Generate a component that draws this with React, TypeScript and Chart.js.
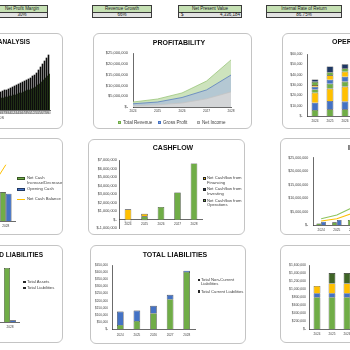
import React, { useEffect, useRef } from 'react';
import { Chart, registerables } from 'chart.js';

Chart.register(...registerables);

// ---------------- data ----------------
const KPI_LABELS = ['Net Profit Margin', 'Revenue Growth', 'Net Present Value', 'Internal Rate of Return'];
const KPI_VALUES = ['30%', '66%', '4,336,184', '86.75%'];
const KPI_CURRENCY = ['', '', '$', ''];

const YEARS = ['2024', '2025', '2026', '2027', '2028'];

// Break-even (months 25..60)
const BE_MONTHS = ['25', '26', '27', '28', '29', '30', '31', '32', '33', '34', '35', '36', '37', '38', '39', '40', '41', '42', '43', '44', '45', '46', '47', '48', '49', '50', '51', '52', '53', '54', '55', '56', '57', '58', '59', '60'];
const BE_REVENUE = [10, 11, 11, 12, 13, 13, 14, 15, 15, 16, 17, 18, 19, 20, 20, 21, 22, 23, 24, 25, 26, 27, 28, 29, 30, 31, 32, 34, 35, 37, 40, 43, 46, 49, 52, 55];
const BE_COSTS = [7, 7, 8, 8, 8, 9, 9, 10, 10, 10, 11, 12, 12, 13, 13, 14, 14, 15, 15, 16, 17, 17, 18, 19, 20, 20, 21, 22, 23, 25, 26, 28, 30, 32, 34, 36];

// Profitability
const TOTAL_REVENUE = [2300000, 3700000, 6500000, 12000000, 21800000];
const GROSS_PROFIT = [1500000, 2300000, 4400000, 7900000, 14800000];
const NET_INCOME = [550000, 1000000, 1850000, 3800000, 7000000];
const EBITDA = [1200000, 1850000, 3000000, 5600000, 10000000];

// Operating expenses
const OPEX_NAMES = ['Salaries', 'Rent', 'Marketing', 'Utilities', 'Insurance', 'Software', 'Travel', 'Other'];
const OPEX_SALARIES = [5800, 6500, 6500, 7000, 7500];
const OPEX_RENT = [7000, 8000, 7500, 8000, 8500];
const OPEX_MARKETING = [9700, 12000, 14500, 15500, 17000];
const OPEX_UTILITIES = [3200, 4800, 4800, 5000, 5200];
const OPEX_INSURANCE = [2600, 3900, 4800, 5000, 5200];
const OPEX_SOFTWARE = [1600, 4200, 4800, 5000, 5200];
const OPEX_TRAVEL = [3200, 3000, 3200, 3500, 3800];
const OPEX_OTHER = [2300, 5500, 4000, 4200, 4400];

// Cashflow
const CF_OPERATIONS = [0, 400000, 1500000, 3200000, 6600000];
const CF_INVESTING = [-300000, -50000, -20000, -30000, -30000];
const CF_FINANCING = [1220000, 300000, 0, 0, 0];
const NET_CASH_CHANGE = [920000, 650000, 1480000, 3170000, 6570000];
const OPENING_CASH = [0, 920000, 1570000, 3050000, 6220000];
const CLOSING_CASH = [920000, 1570000, 3050000, 6220000, 12790000];

// Balance sheet
const TOTAL_ASSETS = [1500000, 2600000, 4300000, 7600000, 13500000];
const CURRENT_LIABILITIES = [30000, 58000, 113000, 211000, 401000];
const NON_CURRENT_LIABILITIES = [94000, 73000, 51000, 30000, 9000];
const TOTAL_LIABILITIES = [124000, 131000, 164000, 241000, 410000];

// Staff costs
const STAFF_NAMES = ['Base Salaries', 'Benefits', 'Bonuses', 'New Hires'];
const STAFF_BASE = [800000, 800000, 800000, 800000, 800000];
const STAFF_BENEFITS = [100000, 100000, 100000, 100000, 100000];
const STAFF_BONUSES = [180000, 240000, 240000, 240000, 240000];
const STAFF_NEW_HIRES = [0, 260000, 260000, 260000, 260000];

// ---------------- style ----------------
const FONT = '"Liberation Sans", Arial, sans-serif';
const AXIS = '#3a3a3a';
const TICK = '#404040';
const GREEN = '#70ad47';
const BLUE = '#4472c4';
const YELLOW = '#ffc000';
const DKGREEN = '#3f6427';
const NAVY = '#1f3864';
const OUTLINE = '#262626';

type Box = { x: number; y: number; w: number; h: number };
type Plot = { L: number; T: number; R: number; B: number };

const money = (v: any) => (Number(v) === 0 ? '$-' : '$' + Number(v).toLocaleString('en-US'));

function yAxis(o: { min: number; max: number; step: number; size: number; pad: number; w: number; stacked?: boolean; cb?: any }) {
  return {
    type: 'linear',
    min: o.min,
    max: o.max,
    stacked: !!o.stacked,
    ticks: { stepSize: o.step, callback: o.cb || money, font: { size: o.size, family: FONT }, color: TICK, padding: o.pad },
    grid: { display: false, drawTicks: false },
    border: { display: true, color: AXIS, width: 0.75 },
    afterFit: (s: any) => { s.width = o.w; },
  };
}

function xAxis(o: { size: number; pad: number; h: number; stacked?: boolean; offset?: boolean; position?: any }) {
  const a: any = {
    type: 'category',
    stacked: !!o.stacked,
    offset: o.offset !== false,
    ticks: { font: { size: o.size, family: FONT }, color: TICK, padding: o.pad, maxRotation: 0, minRotation: 0, autoSkip: false },
    grid: { display: false, drawTicks: false },
    border: { display: true, color: AXIS, width: 0.75 },
    afterFit: (s: any) => { s.height = o.h; },
  };
  if (o.position) a.position = o.position;
  return a;
}

function opts(b: Box, p: Plot, yW: number, xH: number, scales: any) {
  return {
    responsive: false,
    maintainAspectRatio: false,
    animation: false,
    devicePixelRatio: 1,
    events: [],
    layout: {
      autoPadding: false,
      padding: { left: p.L - b.x - yW, top: p.T - b.y, right: b.x + b.w - p.R, bottom: b.y + b.h - p.B - xH },
    },
    plugins: { legend: { display: false }, title: { display: false }, tooltip: { enabled: false } },
    scales,
  };
}

const barDs = (label: string, data: number[], color: any, extra: any = {}) => ({
  type: 'bar',
  label,
  data,
  backgroundColor: color,
  borderColor: OUTLINE,
  borderWidth: 0.6,
  ...extra,
});

// ---------------- panels ----------------
const BOX_A: Box = { x: -150, y: 33, w: 213, h: 96 };
const PLOT_A: Plot = { L: -22, T: 50, R: 50, B: 110 };
const BOX_B: Box = { x: 93, y: 33, w: 159, h: 96 };
const PLOT_B: Plot = { L: 133, T: 53, R: 231, B: 107 };
const BOX_C: Box = { x: 282, y: 33, w: 140, h: 96 };
const PLOT_C: Plot = { L: 307.5, T: 54, R: 382.5, B: 116 };
const BOX_D: Box = { x: -150, y: 138, w: 213, h: 97 };
const PLOT_D: Plot = { L: -76.5, T: 159.4, R: 15, B: 221 };
const BOX_E: Box = { x: 88, y: 139, w: 157, h: 96 };
const PLOT_E: Plot = { L: 119.75, T: 160, R: 202.25, B: 228.3 };
const BOX_F: Box = { x: 280, y: 138, w: 140, h: 97 };
const PLOT_F: Plot = { L: 313.3, T: 157.7, R: 391.8, B: 225 };
const BOX_G: Box = { x: -150, y: 245, w: 213, h: 98 };
const PLOT_G: Plot = { L: -73.7, T: 266, R: 19.3, B: 322 };
const BOX_H: Box = { x: 90, y: 245, w: 156, h: 99 };
const PLOT_H: Plot = { L: 112, T: 265, R: 195, B: 329.3 };
const BOX_I: Box = { x: 280, y: 245, w: 140, h: 98 };
const PLOT_I: Plot = { L: 309.5, T: 265, R: 384.5, B: 329.3 };

const makeA = () => ({
  type: 'bar',
  data: {
    labels: BE_MONTHS,
    datasets: [
      { label: 'Cumulative Revenue', data: BE_REVENUE, backgroundColor: '#0d0d0d', categoryPercentage: 1, barPercentage: 1 },
      { label: 'Cumulative Costs', data: BE_COSTS, backgroundColor: '#3b5a22', categoryPercentage: 1, barPercentage: 1 },
    ],
  },
  options: opts(BOX_A, PLOT_A, 30, 8, {
    x: xAxis({ size: 2.8, pad: 1.6, h: 8 }),
    y: yAxis({ min: 0, max: 60, step: 10, size: 3.5, pad: 4, w: 30, cb: (v: any) => v }),
  }),
});

const makeB = () => ({
  type: 'line',
  data: {
    labels: YEARS,
    datasets: [
      { label: 'Total Revenue', data: TOTAL_REVENUE, borderColor: '#9cc67c', backgroundColor: '#cde3bd', fill: 'origin', borderWidth: 0.8, pointRadius: 0, order: 3 },
      { label: 'Gross Profit', data: GROSS_PROFIT, borderColor: '#5b7fbf', backgroundColor: '#b4c8d3', fill: 'origin', borderWidth: 0.8, pointRadius: 0, order: 2 },
      { label: 'Net Income', data: NET_INCOME, borderColor: '#c4c4c4', backgroundColor: '#d3d5d7', fill: 'origin', borderWidth: 0.8, pointRadius: 0, order: 1 },
    ],
  },
  options: opts(BOX_B, PLOT_B, 38, 8, {
    x: xAxis({ size: 3.2, pad: 2, h: 8, offset: false }),
    y: yAxis({ min: 0, max: 25000000, step: 5000000, size: 4, pad: 5, w: 38 }),
  }),
});

const OPEX_SERIES = [OPEX_SALARIES, OPEX_RENT, OPEX_MARKETING, OPEX_UTILITIES, OPEX_INSURANCE, OPEX_SOFTWARE, OPEX_TRAVEL, OPEX_OTHER];
const OPEX_COLORS = [GREEN, BLUE, YELLOW, GREEN, BLUE, YELLOW, GREEN, NAVY];

const makeC = () => ({
  type: 'bar',
  data: {
    labels: YEARS,
    datasets: OPEX_SERIES.map((d, i) => barDs(OPEX_NAMES[i], d, OPEX_COLORS[i], { categoryPercentage: 1, barPercentage: 0.45 })),
  },
  options: opts(BOX_C, PLOT_C, 24, 8, {
    x: xAxis({ size: 3.2, pad: 3, h: 8, stacked: true }),
    y: yAxis({ min: 0, max: 60000, step: 10000, size: 3.4, pad: 5, w: 24, stacked: true }),
  }),
});

const makeD = () => ({
  type: 'bar',
  data: {
    labels: YEARS,
    datasets: [
      { type: 'line', label: 'Net Cash Balance', data: CLOSING_CASH, borderColor: YELLOW, borderWidth: 1, pointRadius: 0, fill: false },
      barDs('Net Cash Increase/Decrease', NET_CASH_CHANGE, GREEN, { categoryPercentage: 0.62, barPercentage: 1 }),
      barDs('Opening Cash', OPENING_CASH, BLUE, { categoryPercentage: 0.62, barPercentage: 1 }),
    ],
  },
  options: opts(BOX_D, PLOT_D, 30, 8, {
    x: xAxis({ size: 3.2, pad: 2.9, h: 8 }),
    y: yAxis({ min: 0, max: 14000000, step: 2000000, size: 3.5, pad: 4, w: 30 }),
  }),
});

const makeE = () => ({
  type: 'bar',
  data: {
    labels: YEARS,
    datasets: [
      barDs('Net Cashflow from Operations', CF_OPERATIONS, GREEN, { categoryPercentage: 1, barPercentage: 0.4 }),
      barDs('Net Cashflow from Investing', CF_INVESTING, (ctx: any) => (ctx.raw < 0 ? '#ffffff' : NAVY), { categoryPercentage: 1, barPercentage: 0.4 }),
      barDs('Net Cashflow from Financing', CF_FINANCING, YELLOW, { categoryPercentage: 1, barPercentage: 0.4 }),
    ],
  },
  options: opts(BOX_E, PLOT_E, 30, 0, {
    x: xAxis({ size: 3.2, pad: 2.6, h: 0, stacked: true, position: { y: 0 } }),
    y: yAxis({ min: -1000000, max: 7000000, step: 1000000, size: 3.8, pad: 3, w: 30, stacked: true }),
  }),
});

const makeF = () => ({
  type: 'bar',
  data: {
    labels: YEARS,
    datasets: [
      { type: 'line', label: 'Total Revenue', data: TOTAL_REVENUE, borderColor: '#8fc45f', borderWidth: 1.1, pointRadius: 0, fill: false },
      { type: 'line', label: 'Gross Profit', data: GROSS_PROFIT, borderColor: YELLOW, borderWidth: 1.1, pointRadius: 0, fill: false },
      barDs('Net Income', NET_INCOME, GREEN, { categoryPercentage: 0.6, barPercentage: 1 }),
      barDs('EBITDA', EBITDA, BLUE, { categoryPercentage: 0.6, barPercentage: 1 }),
    ],
  },
  options: opts(BOX_F, PLOT_F, 31, 8, {
    x: xAxis({ size: 3.2, pad: 3, h: 8 }),
    y: yAxis({ min: 0, max: 25000000, step: 5000000, size: 3.6, pad: 5, w: 31 }),
  }),
});

const makeG = () => ({
  type: 'bar',
  data: {
    labels: YEARS,
    datasets: [
      barDs('Total Assets', TOTAL_ASSETS, GREEN, { categoryPercentage: 0.645, barPercentage: 1 }),
      barDs('Total Liabilities', TOTAL_LIABILITIES, BLUE, { categoryPercentage: 0.645, barPercentage: 1 }),
    ],
  },
  options: opts(BOX_G, PLOT_G, 30, 8, {
    x: xAxis({ size: 3.2, pad: 2.9, h: 8 }),
    y: yAxis({ min: 0, max: 14000000, step: 2000000, size: 3.5, pad: 4, w: 30 }),
  }),
});

const makeH = () => ({
  type: 'bar',
  data: {
    labels: YEARS,
    datasets: [
      barDs('Total Current Liabilities', CURRENT_LIABILITIES, GREEN, { categoryPercentage: 1, barPercentage: 0.4 }),
      barDs('Total Non-Current Liabilities', NON_CURRENT_LIABILITIES, BLUE, { categoryPercentage: 1, barPercentage: 0.4 }),
    ],
  },
  options: opts(BOX_H, PLOT_H, 20, 8, {
    x: xAxis({ size: 3.1, pad: 3.6, h: 8, stacked: true }),
    y: yAxis({ min: 0, max: 450000, step: 50000, size: 3.1, pad: 4, w: 20, stacked: true }),
  }),
});

const STAFF_SERIES = [STAFF_BASE, STAFF_BENEFITS, STAFF_BONUSES, STAFF_NEW_HIRES];
const STAFF_COLORS = [GREEN, BLUE, YELLOW, DKGREEN];

const makeI = () => ({
  type: 'bar',
  data: {
    labels: YEARS,
    datasets: STAFF_SERIES.map((d, i) => barDs(STAFF_NAMES[i], d, STAFF_COLORS[i], { categoryPercentage: 1, barPercentage: 0.45 })),
  },
  options: opts(BOX_I, PLOT_I, 28, 8, {
    x: xAxis({ size: 3.1, pad: 2.6, h: 8, stacked: true }),
    y: yAxis({ min: 0, max: 1600000, step: 200000, size: 3.4, pad: 3.5, w: 28, stacked: true }),
  }),
});

// ---------------- components ----------------
const K = 4;
function Txt({ x, y, s, a = 'l', b = false, c = '#404040', children }: any) {
  const tx = a === 'l' ? '0%' : a === 'c' ? '-50%' : '-100%';
  return (
    <div
      style={{
        position: 'absolute', left: x, top: y, transformOrigin: '0 0',
        transform: `scale(${1 / K}) translate(${tx}, -50%)`, fontSize: s * K, lineHeight: 1.15,
        fontFamily: FONT, fontWeight: b ? 700 : 400, color: c, whiteSpace: 'nowrap',
      }}
    >
      {children}
    </div>
  );
}

function Swatch({ x, y, w, h, fill, stroke = OUTLINE }: any) {
  return (
    <div style={{ position: 'absolute', left: x, top: y - h / 2, width: w, height: h, background: fill, border: `0.5px solid ${stroke}`, boxSizing: 'border-box' }} />
  );
}

function Frame({ b }: { b: Box }) {
  return (
    <div style={{ position: 'absolute', left: b.x, top: b.y, width: b.w, height: b.h, boxSizing: 'border-box', border: '1px solid #c4c4c4', borderRadius: 6, background: '#fff' }} />
  );
}

function ChartCanvas({ b, make }: { b: Box; make: () => any }) {
  const ref = useRef<HTMLCanvasElement>(null);
  useEffect(() => {
    const chart = new Chart(ref.current as HTMLCanvasElement, make());
    return () => chart.destroy();
  }, []);
  return <canvas ref={ref} width={b.w} height={b.h} style={{ position: 'absolute', left: b.x, top: b.y, width: b.w, height: b.h }} />;
}

const KPI_BOXES = [{ x: -5, w: 53 }, { x: 92, w: 60 }, { x: 178, w: 64 }, { x: 266, w: 76 }];

function Kpi({ i }: { i: number }) {
  const k = KPI_BOXES[i];
  return (
    <>
      <div style={{ position: 'absolute', left: k.x, top: 5, width: k.w, height: 13, boxSizing: 'border-box', border: '1px solid #3a3a3a', background: '#e3e3e3' }} />
      <div style={{ position: 'absolute', left: k.x + 1, top: 6, width: k.w - 2, height: 6, background: '#c5e0b3', borderBottom: '0.5px solid #3a3a3a' }} />
      <Txt x={k.x + k.w / 2} y={8.8} s={4.5} a="c" c="#1a1a1a">{KPI_LABELS[i]}</Txt>
      {KPI_CURRENCY[i] ? (
        <>
          <Txt x={k.x + 3} y={15} s={4.5} c="#1a1a1a">{KPI_CURRENCY[i]}</Txt>
          <Txt x={k.x + k.w - 2} y={15} s={4.5} a="r" c="#1a1a1a">{KPI_VALUES[i]}</Txt>
        </>
      ) : (
        <Txt x={k.x + k.w / 2} y={15} s={4.5} a="c" c="#1a1a1a">{KPI_VALUES[i]}</Txt>
      )}
    </>
  );
}

export default function App() {
  const boxes = [BOX_A, BOX_B, BOX_C, BOX_D, BOX_E, BOX_F, BOX_G, BOX_H, BOX_I];
  const makers = [makeA, makeB, makeC, makeD, makeE, makeF, makeG, makeH, makeI];
  const LG = 4.2;
  return (
    <div style={{ position: 'fixed', left: 0, top: 0, width: 350, height: 350, overflow: 'hidden', background: '#fff' }}>
      {[0, 1, 2, 3].map((i) => <Kpi key={i} i={i} />)}
      {boxes.map((b, i) => <Frame key={'f' + i} b={b} />)}
      {boxes.map((b, i) => <ChartCanvas key={'c' + i} b={b} make={makers[i]} />)}

      {/* titles */}
      <Txt x={30} y={42} s={6.5} a="r" b c="#111">BREAK-EVEN ANALYSIS</Txt>
      <Txt x={3.5} y={118} s={3.8} a="r" c={TICK}>PERIODS</Txt>
      <Txt x={179} y={43} s={7} a="c" b c="#111">PROFITABILITY</Txt>
      <Txt x={332} y={42} s={7} b c="#111">OPERATING EXPENSES</Txt>
      <Txt x={172.5} y={148} s={7} a="c" b c="#111">CASHFLOW</Txt>
      <Txt x={348} y={148} s={7} b c="#111">INCOME STATEMENT</Txt>
      <Txt x={43.3} y={254.5} s={6.5} a="r" b c="#111">ASSETS AND LIABILITIES</Txt>
      <Txt x={175} y={255} s={7} a="c" b c="#111">TOTAL LIABILITIES</Txt>

      {/* profitability legend */}
      <Swatch x={118} y={122} w={3} h={3} fill="#a9d08e" stroke={GREEN} />
      <Txt x={122.5} y={122} s={LG + 0.4}>Total Revenue</Txt>
      <Swatch x={158} y={122} w={3} h={3} fill="#8faadc" stroke={BLUE} />
      <Txt x={162.5} y={122} s={LG + 0.4}>Gross Profit</Txt>
      <Swatch x={197} y={122} w={3} h={3} fill="#d9d9d9" stroke="#a5a5a5" />
      <Txt x={201.5} y={122} s={LG + 0.4}>Net Income</Txt>

      {/* cash balance legend */}
      <Swatch x={17} y={178.3} w={8} h={3} fill={GREEN} stroke="#385723" />
      <Txt x={26.5} y={178.3} s={LG}>Net Cash</Txt>
      <Txt x={26.5} y={182.6} s={LG}>Increase/Decrease</Txt>
      <Swatch x={17} y={189} w={8} h={3} fill={BLUE} stroke="#203864" />
      <Txt x={26.5} y={189} s={LG}>Opening Cash</Txt>
      <div style={{ position: 'absolute', left: 17, top: 198.8, width: 8, height: 1, background: YELLOW }} />
      <Txt x={26.5} y={199.3} s={LG}>Net Cash Balance</Txt>

      {/* cashflow legend */}
      <Swatch x={203.3} y={178.3} w={3} h={3} fill={YELLOW} />
      <Txt x={206.8} y={178.3} s={LG}>Net Cashflow from</Txt>
      <Txt x={206.8} y={182.7} s={LG}>Financing</Txt>
      <Swatch x={203.3} y={189.3} w={3} h={3} fill={NAVY} />
      <Txt x={206.8} y={189.3} s={LG}>Net Cashflow from</Txt>
      <Txt x={206.8} y={193.7} s={LG}>Investing</Txt>
      <Swatch x={203.3} y={200.7} w={3} h={3} fill={GREEN} />
      <Txt x={206.8} y={200.7} s={LG}>Net Cashflow from</Txt>
      <Txt x={206.8} y={205} s={LG}>Operations</Txt>

      {/* assets legend */}
      <Swatch x={23.3} y={282} w={2.6} h={2.6} fill={GREEN} />
      <Txt x={26.7} y={282} s={LG}>Total Assets</Txt>
      <Swatch x={23.3} y={288} w={2.6} h={2.6} fill={BLUE} />
      <Txt x={26.7} y={288} s={LG}>Total Liabilities</Txt>

      {/* total liabilities legend */}
      <Swatch x={197.5} y={280} w={2.8} h={2.8} fill={BLUE} />
      <Txt x={200.8} y={280} s={LG}>Total Non-Current</Txt>
      <Txt x={200.8} y={284.4} s={LG}>Liabilities</Txt>
      <Swatch x={197.5} y={291.7} w={2.8} h={2.8} fill={GREEN} />
      <Txt x={200.8} y={291.7} s={LG}>Total Current Liabilities</Txt>
    </div>
  );
}
